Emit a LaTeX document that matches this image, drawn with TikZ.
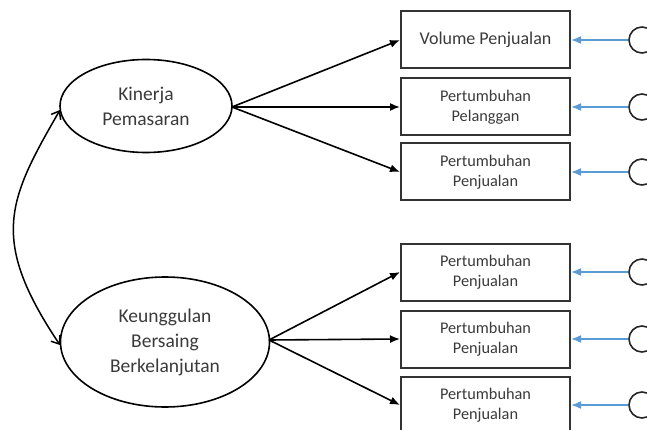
\documentclass[tikz,border=0pt]{standalone}
\usepackage{fontspec}
\setmainfont{Carlito}
\usetikzlibrary{shapes.geometric,arrows.meta}
\definecolor{txt}{HTML}{3A3A3A}
\definecolor{errblue}{HTML}{5B9BD5}
\begin{document}
\begin{tikzpicture}[x=1pt,y=-1pt,
  latent/.style={draw=black,line width=1.6pt,ellipse,inner sep=0pt,text=txt,align=center,
    font=\fontsize{19.5}{25}\selectfont},
  indicator/.style={draw=black!80,line width=2pt,rectangle,minimum width=169pt,minimum height=57pt,
    inner sep=0pt,text=txt,align=center,font=\fontsize{16.3}{19.5}\selectfont},
  errterm/.style={draw=black!85,line width=1.6pt,circle,minimum size=26pt,inner sep=0pt},
  load/.style={-{Latex[length=10pt,width=8pt]},line width=1.6pt,black},
  err/.style={-{Latex[length=10pt,width=8pt]},line width=1.6pt,errblue},
  cov/.style={{Straight Barb[length=7pt,width=11pt]}-{Straight Barb[length=7pt,width=11pt]},line width=1.5pt,black}]
\useasboundingbox (0,0) rectangle (647,430);
\clip (0,0) rectangle (647,430);

% latent constructs
\node[latent,minimum width=172pt,minimum height=93pt] (kp) at (146,106) {Kinerja\\Pemasaran};
\node[latent,minimum width=209pt,minimum height=130pt] (kb) at (165,342) {Keunggulan\\Bersaing\\Berkelanjutan};

% indicators
\node[indicator] (i1) at (485.5,40) {\fontsize{18}{20}\selectfont Volume Penjualan};
\node[indicator] (i2) at (485.5,107) {Pertumbuhan\\Pelanggan};
\node[indicator] (i3) at (485.5,172) {Pertumbuhan\\Penjualan};
\node[indicator] (i4) at (485.5,272) {Pertumbuhan\\Penjualan};
\node[indicator] (i5) at (485.5,339) {Pertumbuhan\\Penjualan};
\node[indicator] (i6) at (485.5,405) {Pertumbuhan\\Penjualan};

% error terms
\foreach \k in {1,...,6}{
  \path (i\k.center) ++(156.5,0) node[errterm] (e\k) {};
}

% loadings
\coordinate (kpE) at (232,107);
\coordinate (kbE) at (269,340);
\draw[load] (kpE) -- (i1.west);
\draw[load] (kpE) -- (i2.west);
\draw[load] (kpE) -- (i3.west);
\draw[load] (kbE) -- (i4.west);
\draw[load] (kbE) -- (i5.west);
\draw[load] (kbE) -- (i6.west);

% measurement errors
\foreach \k in {1,...,6}{
  \draw[err] (e\k.west) -- (i\k.east);
}

% correlation between constructs
\coordinate (kpW) at (60,110);
\coordinate (kbW) at (60,345);
\draw[cov] (kpW) .. controls (8,200) and (-11,239) .. (kbW);
\end{tikzpicture}
\end{document}
